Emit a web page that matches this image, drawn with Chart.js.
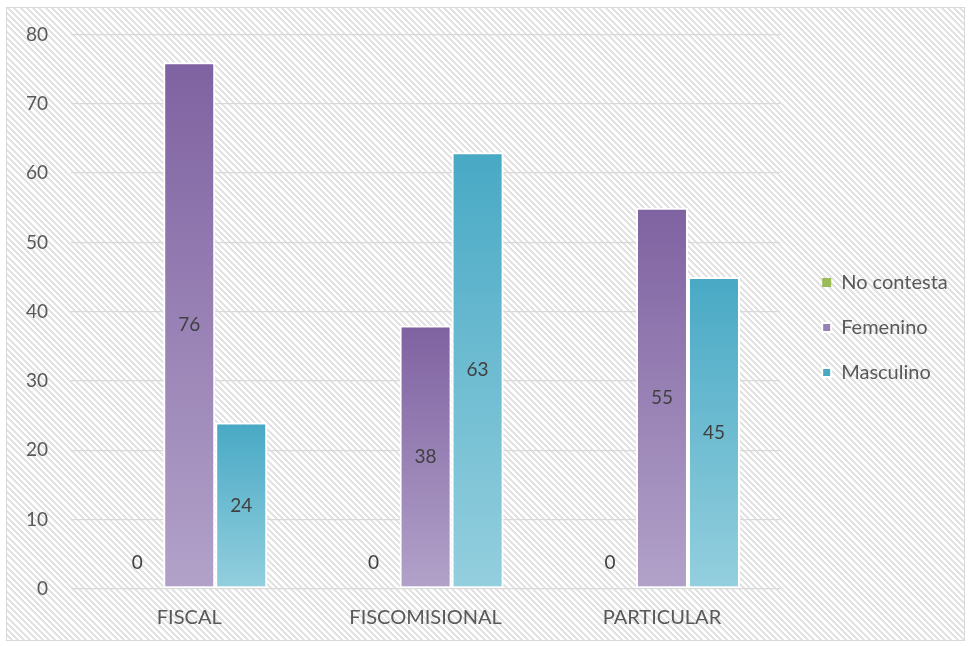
<!DOCTYPE html>
<html>
<head>
<meta charset="utf-8">
<script src="https://cdn.jsdelivr.net/npm/chart.js@4/dist/chart.umd.min.js"></script>
<style>
  html, body { margin: 0; padding: 0; background: #ffffff; }
  #frame {
    position: absolute; left: 6px; top: 7px; width: 957px; height: 632px;
    border: 1px solid #d9d9d9;
    background: repeating-linear-gradient(45deg, #ffffff 0px, #ffffff 2.3px, #e3e3e3 2.3px, #e3e3e3 4.4px);
  }
  #wrap { position: absolute; left: 0; top: 0; width: 969px; height: 646px; }
</style>
</head>
<body>
<div id="frame"></div>
<div id="wrap"><canvas id="chart" width="969" height="646"></canvas></div>
<script>
// Categories and series
const categories = ['FISCAL', 'FISCOMISIONAL', 'PARTICULAR'];
const noContesta = [0, 0, 0];
const femenino = [76, 38, 55];
const masculino = [24, 63, 45];
const yTicks = [0, 10, 20, 30, 40, 50, 60, 70, 80];

const FONT = 'Lato, "Open Sans", sans-serif';

// Vertical gradient per bar, dark at the top and light at the base
function barGradient(top, bottom) {
  return function (ctx) {
    const chart = ctx.chart;
    const y = chart.scales && chart.scales.y;
    if (!y || ctx.raw === undefined || !chart.chartArea) return top;
    const yTop = y.getPixelForValue(ctx.raw);
    const yBase = y.getPixelForValue(0);
    if (Math.abs(yBase - yTop) < 1) return top;
    const g = chart.ctx.createLinearGradient(0, yTop, 0, yBase);
    g.addColorStop(0, top);
    g.addColorStop(1, bottom);
    return g;
  };
}

// Value labels centred in each bar
const valueLabels = {
  id: 'valueLabels',
  afterDatasetsDraw(chart) {
    const c = chart.ctx;
    c.save();
    c.font = '19px ' + FONT;
    c.fillStyle = '#404040';
    c.textAlign = 'center';
    c.textBaseline = 'middle';
    chart.data.datasets.forEach((ds, di) => {
      const meta = chart.getDatasetMeta(di);
      meta.data.forEach((el, i) => {
        const v = ds.data[i];
        const y = v === 0 ? el.base - 26 : (el.y + el.base) / 2;
        c.fillText(String(v), el.x, y);
      });
    });
    c.restore();
  }
};

const borderFor = (ctx) => (ctx.raw === 0 ? 0 : 2);

new Chart(document.getElementById('chart'), {
  type: 'bar',
  data: {
    labels: categories,
    datasets: [
      { label: 'No contesta', data: noContesta, backgroundColor: '#9bbb59',
        borderColor: '#ffffff', borderWidth: borderFor, borderSkipped: false },
      { label: 'Femenino', data: femenino, backgroundColor: barGradient('#7f62a1', '#b2a2c9'),
        borderColor: '#ffffff', borderWidth: borderFor, borderSkipped: false },
      { label: 'Masculino', data: masculino, backgroundColor: barGradient('#48a9c5', '#94cfde'),
        borderColor: '#ffffff', borderWidth: borderFor, borderSkipped: false }
    ]
  },
  options: {
    responsive: false,
    animation: false,
    layout: { padding: { left: 3, top: 25, right: 13, bottom: 16 } },
    datasets: { bar: { categoryPercentage: 0.66, barPercentage: 1.0 } },
    scales: {
      x: {
        grid: { display: false, drawTicks: true, tickLength: 17 },
        border: { display: false },
        ticks: { color: '#595959', font: { family: FONT, size: 20 }, padding: 0 }
      },
      y: {
        min: 0, max: 80,
        afterBuildTicks(scale) { scale.ticks = yTicks.map(v => ({ value: v })); },
        grid: { color: '#d9d9d9', lineWidth: 1.3, drawTicks: false },
        border: { display: false },
        ticks: { color: '#595959', font: { family: FONT, size: 19 }, padding: 23 }
      },
      gap: {
        position: 'right',
        display: true,
        grid: { display: false },
        border: { display: false },
        ticks: { display: false },
        afterFit(scale) { scale.width = 17; }
      }
    },
    plugins: {
      legend: {
        position: 'right',
        labels: {
          color: '#595959',
          font: { family: FONT, size: 20, lineHeight: 1.2 },
          boxWidth: 9, boxHeight: 9, padding: 25
        }
      },
      tooltip: { enabled: false }
    }
  },
  plugins: [valueLabels]
});
</script>
</body>
</html>
